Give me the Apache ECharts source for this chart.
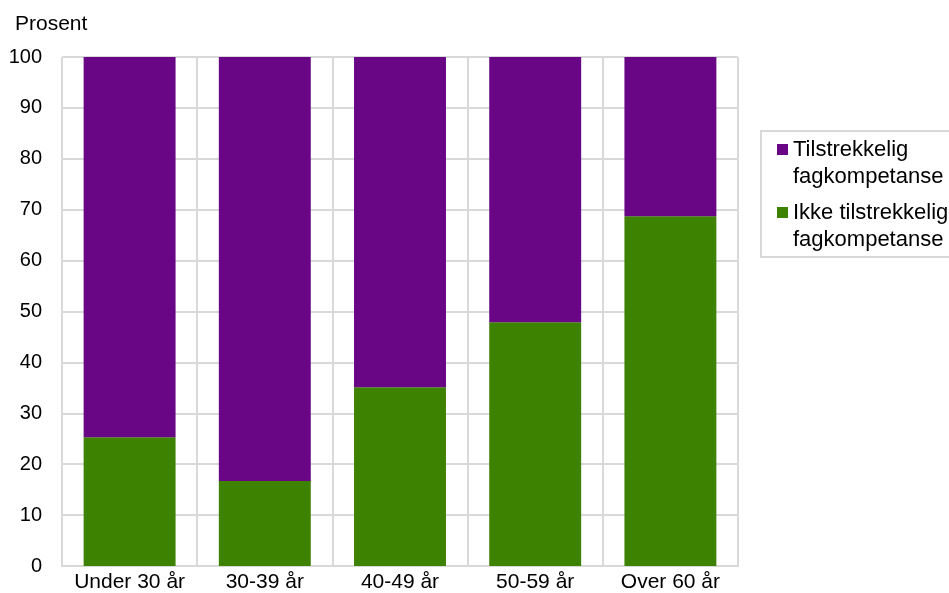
<!DOCTYPE html>
<html><head><meta charset="utf-8">
<script src="https://cdn.jsdelivr.net/npm/echarts@6/dist/echarts.min.js"></script>
<style>html,body{margin:0;padding:0;background:#fff}#c{width:949px;height:593px}</style>
</head><body><div id="c"></div>
<script>
const categories = ['Under 30 år','30-39 år','40-49 år','50-59 år','Over 60 år'];
const ikkeTilstrekkelig = [25.3, 16.7, 35.1, 47.9, 68.7];
const tilstrekkelig = [74.7, 83.3, 64.9, 52.1, 31.3];
const seriesNames = ['Tilstrekkelig\nfagkompetanse','Ikke tilstrekkelig\nfagkompetanse'];
const chart = echarts.init(document.getElementById('c'));
const font = 'Liberation Sans, Arial, sans-serif';
const legendIcon = 'path://M0,0L0.01,0M0,8L11,8L11,19L0,19ZM0,54L0.01,54';
chart.setOption({
  animation:false,
  textStyle:{fontFamily:font},
  title:{text:'Prosent',left:10,top:9,textStyle:{fontSize:21,fontWeight:'normal',color:'#000',fontFamily:font}},
  grid:{left:62,right:211,top:57,bottom:26},
  legend:{
    data:seriesNames, orient:'vertical', left:761, top:131,
    itemWidth:11, itemHeight:54, itemGap:9, icon:legendIcon,
    padding:[5,2,4,16], borderColor:'#d9d9d9', borderWidth:2,
    textStyle:{fontSize:22,color:'#000',lineHeight:27,fontFamily:font}
  },
  xAxis:{type:'category',data:categories,
    axisLine:{lineStyle:{color:'#d9d9d9',width:2}},axisTick:{show:false},
    splitLine:{show:true,interval:0,lineStyle:{color:'#d9d9d9',width:2}},
    axisLabel:{interval:0,fontSize:21,color:'#000',margin:6,fontFamily:font}},
  yAxis:{type:'value',min:0,max:100,interval:10,
    axisLine:{show:false},axisTick:{show:false},
    splitLine:{lineStyle:{color:'#d9d9d9',width:2}},
    axisLabel:{fontSize:20,color:'#000',margin:20,fontFamily:font}},
  series:[
    {name:seriesNames[1],type:'bar',stack:'a',data:ikkeTilstrekkelig,barWidth:'68%',itemStyle:{color:'#3d8200'}},
    {name:seriesNames[0],type:'bar',stack:'a',data:tilstrekkelig,barWidth:'68%',itemStyle:{color:'#680685'}}
  ]
});
</script></body></html>
